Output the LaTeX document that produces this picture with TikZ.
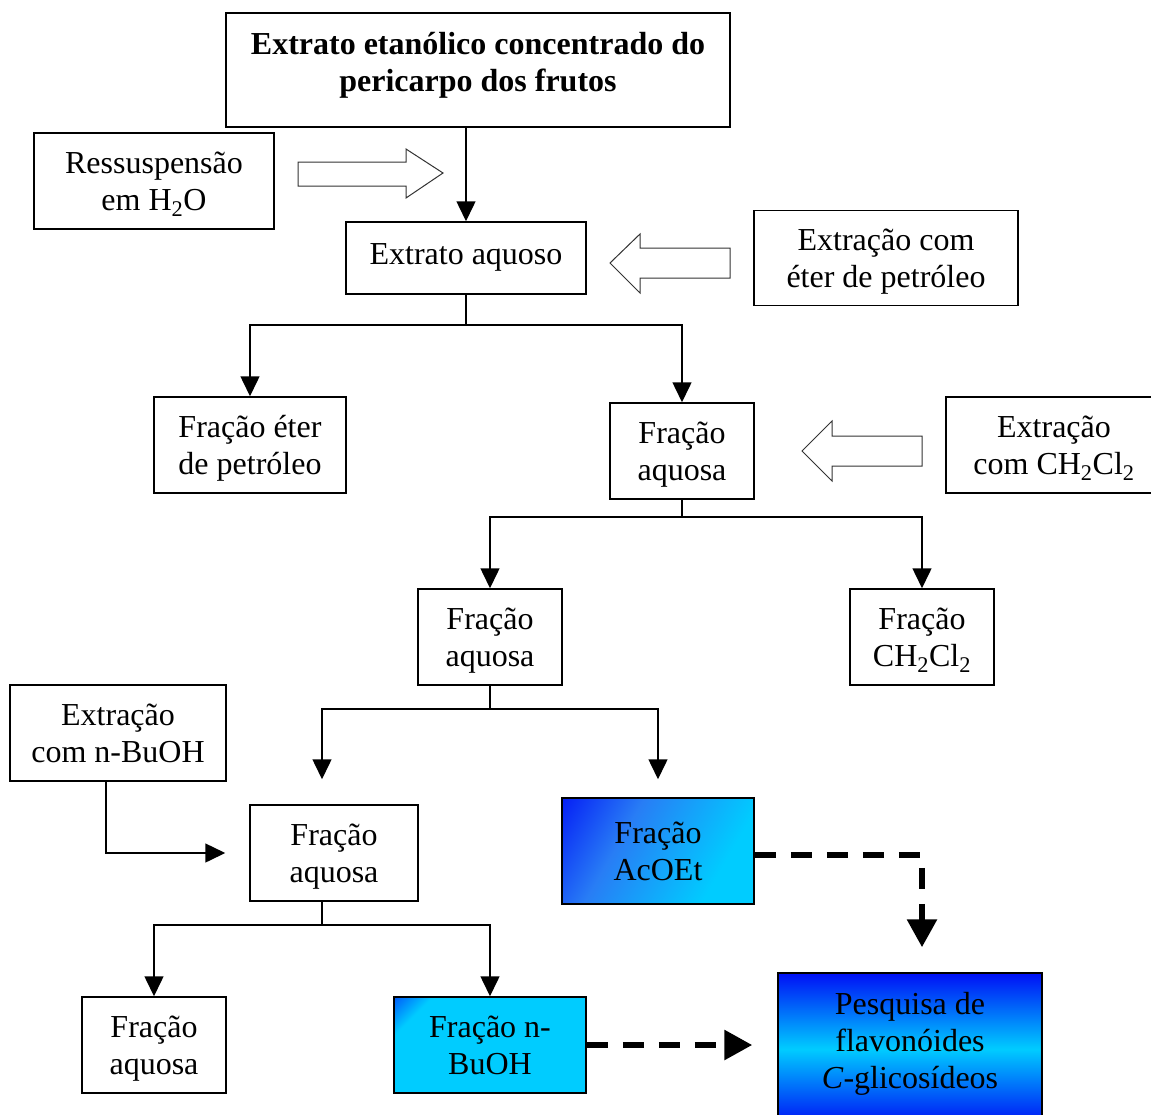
\documentclass[tikz,border=0pt]{standalone}
\usepackage{fontspec}
\setmainfont{Liberation Serif}
\usetikzlibrary{arrows.meta}
\definecolor{dkblue}{RGB}{0,16,245}
\definecolor{mdblue}{RGB}{40,125,245}
\definecolor{ltcyan}{RGB}{0,204,255}
\pgfdeclareverticalshading{acshade}{100bp}{color(0bp)=(ltcyan); color(30bp)=(ltcyan);
  color(62bp)=(mdblue); color(88bp)=(dkblue); color(100bp)=(dkblue)}
\pgfdeclareverticalshading{bushade}{100bp}{color(0bp)=(ltcyan); color(76bp)=(ltcyan);
  color(92bp)=(dkblue); color(100bp)=(dkblue)}
\tikzset{
  box/.style={draw,line width=1.5pt,align=center,inner sep=0pt,text depth=0pt,
    font=\fontsize{32}{37}\selectfont},
  conn/.style={line width=1.5pt,-{Triangle[length=20pt,width=19pt]}},
  dasharr/.style={line width=6pt,dash pattern=on 21pt off 15pt,
    -{Triangle[length=28pt,width=29pt]}},
  hollow/.style={draw=black!80,line width=1pt,fill=white}
}
\begin{document}
\begin{tikzpicture}[x=1pt,y=-1pt]
\useasboundingbox (0,0) rectangle (1151,1114);
\clip (0,0) rectangle (1151,1114);
% boxes
\node[box,minimum width=504,minimum height=114,text depth=17pt,
  font=\fontsize{32}{37}\selectfont\bfseries] (title) at (478,70)
  {Extrato etanólico concentrado do\\pericarpo dos frutos};
\node[box,minimum width=240,minimum height=96,text depth=-2pt] (ress) at (154,181)
  {Ressuspensão\\em H\textsubscript{2}O};
\node[box,minimum width=240,minimum height=72,text depth=7pt] (extaq) at (466,258)
  {Extrato aquoso};
\node[box,minimum width=264,minimum height=95] (eterext) at (886,258)
  {Extração com\\éter de petróleo};
\node[box,minimum width=192,minimum height=96] (eter) at (250,445)
  {Fração éter\\de petróleo};
\node[box,minimum width=144,minimum height=96] (aq1) at (682,451) {Fração\\aquosa};
\node[box,minimum width=216,minimum height=96] (clext) at (1054,445)
  {Extração\\com CH\textsubscript{2}Cl\textsubscript{2}};
\node[box,minimum width=144,minimum height=96] (aq2) at (490,637) {Fração\\aquosa};
\node[box,minimum width=144,minimum height=96] (cl) at (922,637)
  {Fração\\CH\textsubscript{2}Cl\textsubscript{2}};
\node[box,minimum width=216,minimum height=96] (buext) at (118,733)
  {Extração\\com n-BuOH};
\node[box,minimum width=168,minimum height=96] (aq3) at (334,853) {Fração\\aquosa};
\node[box,minimum width=192,minimum height=106,shade,shading=acshade,
  shading angle=60] (acoet) at (658,851) {Fração\\AcOEt};
\node[box,minimum width=144,minimum height=96] (aq4) at (154,1045) {Fração\\aquosa};
\node[box,minimum width=192,minimum height=96,shade,shading=bushade,
  shading angle=45] (buoh) at (490,1045) {Fração n-\\BuOH};
\node[box,minimum width=264,minimum height=152,text depth=18pt,top color=dkblue,
  bottom color=dkblue,middle color=ltcyan] (pesq) at (910,1049)
  {Pesquisa de\\flavonóides\\\textit{C}-glicosídeos};
% hollow arrows
\draw[hollow] (298,162) -- (406,162) -- (406,149) -- (443,173) -- (406,198)
  -- (406,186) -- (298,186) -- cycle;
\draw[hollow] (730,248) -- (640,248) -- (640,234) -- (610,263) -- (640,293)
  -- (640,278) -- (730,278) -- cycle;
\draw[hollow] (922,436) -- (832,436) -- (832,421) -- (802,451) -- (832,481)
  -- (832,466) -- (922,466) -- cycle;
% branch points
\coordinate (b1) at (466,325);
\coordinate (b2) at (682,517);
\coordinate (b3) at (490,709);
\coordinate (b4) at (322,925);
% connectors
\draw[conn] (extaq.north |- title.south) -- (extaq.north);
\draw[conn] (extaq.south) -- (b1) -| (eter.north);
\draw[conn] (b1) -| (aq1.north);
\draw[conn] (aq1.south) -- (b2) -| (aq2.north);
\draw[conn] (b2) -| (cl.north);
\draw[conn,shorten >=25pt] (aq2.south) -- (b3) -| ([xshift=-12pt]aq3.north);
\draw[conn,shorten >=18pt] (b3) -| (acoet.north);
\draw[conn,shorten >=24pt] ([xshift=-12pt]buext.south) |- (aq3.west);
\draw[conn] ([xshift=-12pt]aq3.south) -- (b4) -| (aq4.north);
\draw[conn] (b4) -| (buoh.north);
\draw[dasharr,shorten >=25pt] ([yshift=-4pt]acoet.east) -| ([xshift=12pt]pesq.north);
\draw[dasharr,shorten >=25pt] (buoh.east) -- (pesq.west |- buoh.east);
\end{tikzpicture}
\end{document}
